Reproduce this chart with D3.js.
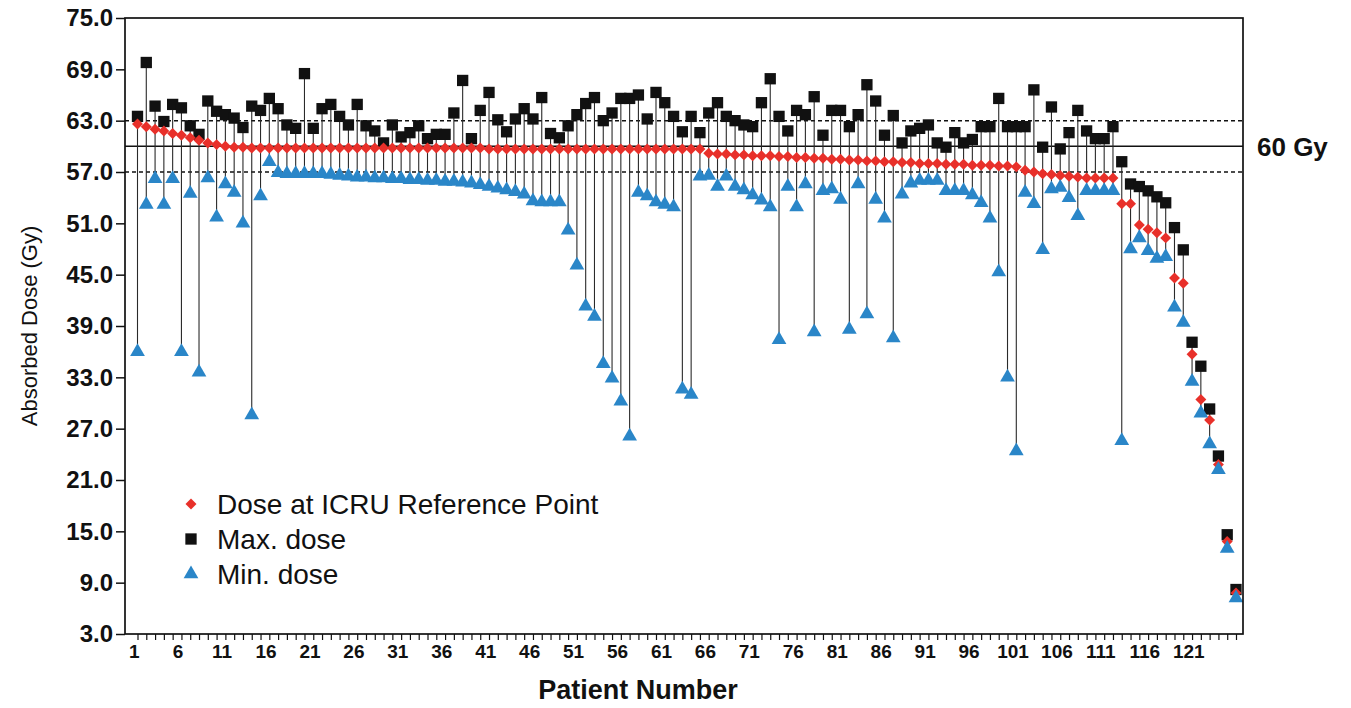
<!DOCTYPE html>
<html><head><meta charset="utf-8">
<script src="https://cdn.jsdelivr.net/npm/d3@7"></script>
<style>
body{margin:0;background:#fff;}
svg{display:block;font-family:"Liberation Sans",Arial,Helvetica,sans-serif;}
</style>
</head><body>
<svg id="chart" width="1351" height="708"></svg>
<script>
// ---------- data ----------
const maxDose = [
 63.5,69.8,64.7,62.9,64.9,64.5,62.4,61.4,65.3,64.1,
 63.7,63.3,62.2,64.7,64.2,65.6,64.4,62.5,62.1,68.5,
 62.1,64.4,64.9,63.5,62.5,64.9,62.4,61.8,60.4,62.5,
 61.1,61.6,62.4,60.9,61.4,61.4,63.9,67.7,60.9,64.2,
 66.3,63.1,61.7,63.2,64.4,63.2,65.7,61.5,61.0,62.4,
 63.7,65.0,65.7,63.0,63.9,65.6,65.6,66.0,63.2,66.3,
 65.1,63.5,61.7,63.5,61.6,63.9,65.1,63.5,63.0,62.5,
 62.3,65.1,67.9,63.5,61.8,64.2,63.7,65.8,61.3,64.2,
 64.2,62.3,63.7,67.2,65.3,61.3,63.6,60.4,61.8,62.1,
 62.5,60.4,59.9,61.6,60.4,60.8,62.3,62.3,65.6,62.3,
 62.3,62.3,66.6,59.9,64.6,59.7,61.6,64.2,61.8,60.9,
 60.9,62.3,58.2,55.6,55.3,54.8,54.1,53.4,50.5,47.9,
 37.1,34.3,29.3,23.8,14.6,8.2
];
const icruDose = [
 62.6,62.3,62.0,61.8,61.5,61.3,61.0,60.7,60.4,60.2,
 60.0,59.9,59.9,59.8,59.8,59.8,59.8,59.8,59.8,59.8,
 59.8,59.8,59.8,59.8,59.8,59.8,59.8,59.8,59.8,59.8,
 59.8,59.8,59.8,59.8,59.8,59.8,59.8,59.8,59.8,59.8,
 59.7,59.7,59.7,59.7,59.7,59.7,59.7,59.7,59.7,59.7,
 59.7,59.7,59.7,59.7,59.7,59.7,59.7,59.7,59.7,59.7,
 59.7,59.7,59.7,59.7,59.7,59.2,59.1,59.1,59.0,59.0,
 58.9,58.9,58.9,58.8,58.8,58.7,58.7,58.6,58.6,58.5,
 58.5,58.4,58.4,58.3,58.3,58.2,58.2,58.1,58.1,58.0,
 58.0,58.0,57.9,57.9,57.9,57.8,57.8,57.8,57.7,57.7,
 57.6,57.2,57.0,56.8,56.7,56.6,56.5,56.4,56.3,56.3,
 56.3,56.3,53.3,53.3,50.8,50.3,49.9,49.3,44.6,44.0,
 35.7,30.4,28.0,22.8,13.8,7.8
];
const minDose = [
 36.0,53.2,56.2,53.2,56.2,36.0,54.5,33.6,56.3,51.7,
 55.6,54.6,51.0,28.6,54.2,58.2,56.9,56.8,56.8,56.8,
 56.8,56.8,56.7,56.6,56.5,56.4,56.4,56.3,56.3,56.2,
 56.2,56.1,56.1,56.0,56.0,55.9,55.9,55.8,55.7,55.5,
 55.3,55.1,54.9,54.7,54.4,53.6,53.5,53.5,53.5,50.2,
 46.1,41.3,40.1,34.6,32.9,30.2,26.1,54.6,54.2,53.5,
 53.2,52.9,31.6,31.0,56.5,56.6,55.3,56.5,55.3,54.9,
 54.3,53.7,52.9,37.4,55.3,52.9,55.6,38.3,54.8,55.0,
 53.8,38.6,55.6,40.4,53.8,51.6,37.6,54.4,55.7,56.0,
 56.0,56.0,54.8,54.8,54.8,54.3,53.4,51.6,45.3,33.0,
 24.4,54.6,53.3,47.9,55.0,55.2,54.0,51.9,54.8,54.8,
 54.8,54.8,25.6,48.0,49.3,47.8,46.9,47.1,41.2,39.4,
 32.5,28.8,25.2,22.2,13.0,7.2
];
const yTickValues = [75,69,63,57,51,45,39,33,27,21,15,9,3];
const xTickLabels = [1,6,11,16,21,26,31,36,41,46,51,56,61,66,71,76,81,86,91,96,101,106,111,116,121];
const refLineValues = [63,60,57];
const refLineDashed = [true,false,true];
const refLabel = "60 Gy";
const legendLabels = ["Dose at ICRU Reference Point","Max. dose","Min. dose"];
const yTitle = "Absorbed Dose (Gy)";
const xTitle = "Patient Number";

(function(){
const RED = "#e8302a", BLUE = "#2a86c8", BLACK = "#111";
const patients = maxDose.map((d,i)=>i+1);
const data = patients.map((p,i)=>({p, max:maxDose[i], icru:icruDose[i], min:minDose[i]}));

const svg = d3.select("#chart");
const pL = 125, pR = 1243, pT = 18, pB = 634;
const x = d3.scaleLinear().domain([1, patients.length]).range([137.5, 1236]);
const y = d3.scaleLinear().domain([3, 75]).range([pB, pT]);

// reference lines
svg.append("g").selectAll("line").data(refLineValues).join("line")
  .attr("x1", pL).attr("x2", pR)
  .attr("y1", d=>y(d)).attr("y2", d=>y(d))
  .attr("stroke", BLACK).attr("stroke-width", 1.5)
  .attr("stroke-dasharray", (d,i)=>refLineDashed[i] ? "4,3" : null);

svg.append("text").attr("x", 1257).attr("y", y(60)).attr("dy","0.36em")
  .attr("font-weight","bold").attr("font-size",26).attr("fill",BLACK).text(refLabel);

// stems
svg.append("g").selectAll("line").data(data).join("line")
  .attr("x1", d=>x(d.p)).attr("x2", d=>x(d.p))
  .attr("y1", d=>y(d.min)).attr("y2", d=>y(d.max))
  .attr("stroke", "#2a2a2a").attr("stroke-width", 1.1);

const sq = d3.symbol().type(d3.symbolSquare).size(128);
const dia = d3.symbol().type(d3.symbolSquare).size(60);
const tri = d3.symbol().type(d3.symbolTriangle).size(94);

svg.append("g").selectAll("path").data(data).join("path")
  .attr("d", sq).attr("fill", BLACK)
  .attr("transform", d=>`translate(${x(d.p)},${y(d.max)})`);
svg.append("g").selectAll("path").data(data).join("path")
  .attr("d", dia).attr("fill", RED)
  .attr("transform", d=>`translate(${x(d.p)},${y(d.icru)}) rotate(45)`);
svg.append("g").selectAll("path").data(data).join("path")
  .attr("d", tri).attr("fill", BLUE)
  .attr("transform", d=>`translate(${x(d.p)},${y(d.min)})`);

// frame
svg.append("rect").attr("x", pL).attr("y", pT)
  .attr("width", pR-pL).attr("height", pB-pT)
  .attr("fill","none").attr("stroke",BLACK).attr("stroke-width",1.7);

// y axis
const yAxis = svg.append("g").attr("transform",`translate(${pL},0)`)
  .call(d3.axisLeft(y).tickValues(yTickValues).tickFormat(d3.format(".1f")).tickSize(9).tickPadding(3));
yAxis.select(".domain").remove();
yAxis.selectAll("line").attr("stroke",BLACK).attr("stroke-width",1.5);
yAxis.selectAll("text").attr("font-size",24).attr("font-weight","bold").attr("fill",BLACK)
  .attr("font-family",'"Liberation Sans",Arial,sans-serif');

// x axis
const xAxis = svg.append("g").attr("transform",`translate(0,${pB})`)
  .call(d3.axisBottom(x).tickValues(patients)
    .tickFormat(d => xTickLabels.includes(d) ? d : "").tickSize(6).tickPadding(5));
xAxis.select(".domain").remove();
xAxis.selectAll("line").attr("stroke",BLACK).attr("stroke-width",1.2);
xAxis.selectAll("text").attr("font-size",19).attr("font-weight","bold").attr("fill",BLACK)
  .attr("dx","-0.2em").attr("font-family",'"Liberation Sans",Arial,sans-serif');

// titles
svg.append("text").attr("transform",`translate(29,${(pT+pB)/2}) rotate(-90)`)
  .attr("text-anchor","middle").attr("dy","0.35em").attr("font-size",22).attr("fill",BLACK).text(yTitle);
svg.append("text").attr("x",638).attr("y",699)
  .attr("text-anchor","middle").attr("font-size",27).attr("font-weight","bold").attr("fill",BLACK).text(xTitle);

// legend
const legendSymbols = [
  {path: dia(), fill: RED, rot: 45},
  {path: sq(), fill: BLACK, rot: 0},
  {path: tri(), fill: BLUE, rot: 0}
];
const lg = svg.append("g");
legendLabels.forEach((lab,i)=>{
  const yy = 504 + i*35;
  lg.append("path").attr("d", legendSymbols[i].path).attr("fill", legendSymbols[i].fill)
    .attr("transform",`translate(191,${yy}) rotate(${legendSymbols[i].rot})`);
  lg.append("text").attr("x",217).attr("y",yy).attr("dy","0.35em")
    .attr("font-size",28).attr("fill",BLACK).text(lab);
});
})();
</script>
</body></html>
